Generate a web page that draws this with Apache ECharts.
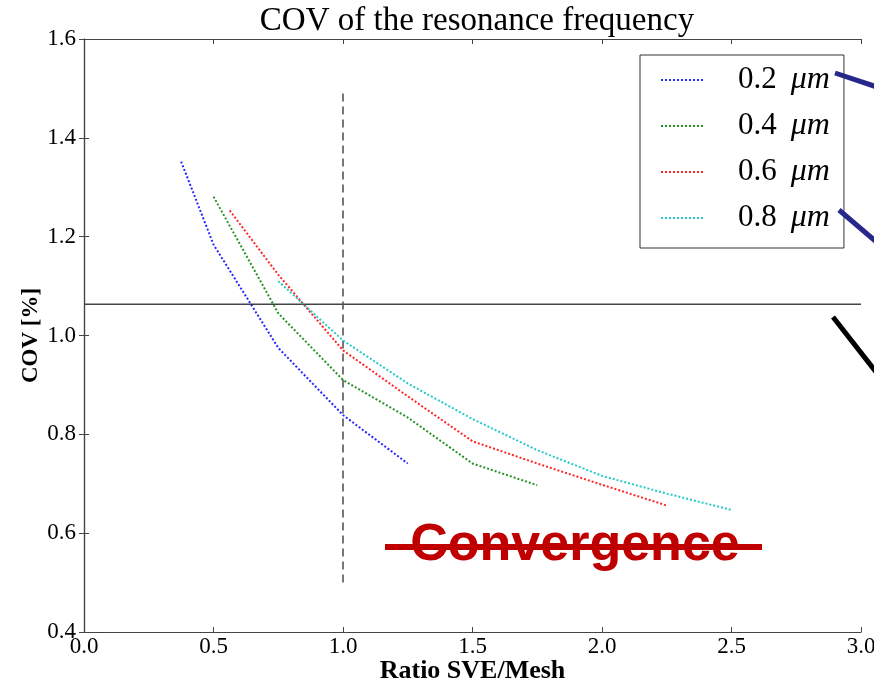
<!DOCTYPE html>
<html>
<head>
<meta charset="utf-8">
<script src="https://cdn.jsdelivr.net/npm/echarts@6/dist/echarts.min.js"></script>
<style>html,body{margin:0;padding:0;background:#fff}#c{width:874px;height:686px}</style>
</head>
<body>
<div id="c"></div>
<script>
// ---- data ----
const seriesNames = ['0.2', '0.4', '0.6', '0.8'];
const x02 = [0.375, 0.5, 0.75, 1.0, 1.25];
const y02 = [1.352, 1.184, 0.975, 0.839, 0.741];
const x04 = [0.5, 0.75, 1.0, 1.25, 1.5, 1.75];
const y04 = [1.281, 1.045, 0.910, 0.834, 0.741, 0.697];
const x06 = [0.5625, 0.75, 1.0, 1.25, 1.5, 1.75, 2.0, 2.25];
const y06 = [1.253, 1.123, 0.970, 0.877, 0.786, 0.741, 0.698, 0.656];
const x08 = [0.75, 1.0, 1.25, 1.5, 1.75, 2.0, 2.25, 2.5];
const y08 = [1.110, 0.990, 0.903, 0.831, 0.768, 0.716, 0.680, 0.647];
const hLineY = 1.063;          // horizontal threshold line
const vLineX = 1.0;            // vertical dashed line
const vLineRange = [0.5, 1.5];
const xTicks = [0, 3, 0.5];    // min, max, interval
const yTicks = [0.4, 1.6, 0.2];

const colors = ['#0000ff', '#008000', '#ff0000', '#00bfbf'];
const serif = 'Liberation Serif';

function pairs(xs, ys) { return xs.map((x, i) => [x, ys[i]]); }
const curves = [pairs(x02, y02), pairs(x04, y04), pairs(x06, y06), pairs(x08, y08)];

const chart = echarts.init(document.getElementById('c'), null, {renderer: 'canvas'});

const axisCommon = {
  axisLine: {show: true, lineStyle: {color: '#444', width: 1.2}},
  axisTick: {show: true, inside: true, length: 5, lineStyle: {color: '#444'}},
  splitLine: {show: false}
};

const series = curves.map((d, i) => ({
  name: seriesNames[i],
  type: 'line',
  data: d,
  symbol: 'none',
  smooth: false,
  xAxisIndex: 0, yAxisIndex: 0,
  lineStyle: {color: colors[i], width: 2, type: [2, 2], opacity: 0.85},
  itemStyle: {color: colors[i]},
  z: 3
}));
series.push({
  name: 'hline', type: 'line', symbol: 'none', silent: true,
  data: [[xTicks[0], hLineY], [xTicks[1], hLineY]],
  lineStyle: {color: '#444', width: 1.5}, z: 2
});
series.push({
  name: 'vline', type: 'line', symbol: 'none', silent: true,
  data: [[vLineX, vLineRange[0]], [vLineX, vLineRange[1]]],
  lineStyle: {color: '#555', width: 1.6, type: [8, 5]}, z: 2
});

const option = {
  animation: false,
  backgroundColor: '#fff',
  title: {
    text: 'COV of the resonance frequency',
    left: 472, top: 0, textAlign: 'center',
    textStyle: {fontFamily: serif, fontSize: 33, fontWeight: 'normal', color: '#000'}
  },
  grid: {left: 84, right: 13, top: 39, bottom: 54, containLabel: false, outerBoundsMode: 'none'},
  legend: {
    data: seriesNames,
    orient: 'vertical',
    left: 640, top: 55,
    padding: [9, 14, 14, 20],
    itemGap: 14,
    itemWidth: 44, itemHeight: 14,
    borderColor: '#333', borderWidth: 1, borderRadius: 0,
    backgroundColor: '#fff',
    itemStyle: {opacity: 0},
    formatter: name => '{n|' + name + '}{i|μm}',
    textStyle: {
      fontFamily: serif, color: '#000',
      rich: {
        n: {fontFamily: serif, fontSize: 31, lineHeight: 30, padding: [0, 14, 0, 28], color: '#000'},
        i: {fontFamily: serif, fontSize: 32, lineHeight: 30, fontStyle: 'italic', color: '#000'}
      }
    }
  },
  xAxis: [
    Object.assign({}, axisCommon, {
      type: 'value', min: xTicks[0], max: xTicks[1], interval: xTicks[2],
      position: 'bottom',
      name: 'Ratio SVE/Mesh', nameLocation: 'middle', nameGap: 26, nameMoveOverlap: false,
      nameTextStyle: {fontFamily: serif, fontSize: 26, color: '#000', fontWeight: 'bold'},
      axisLabel: {fontFamily: serif, fontSize: 23, color: '#000', margin: 3,
        formatter: v => v.toFixed(1)}
    }),
    Object.assign({}, axisCommon, {
      type: 'value', min: xTicks[0], max: xTicks[1], interval: xTicks[2],
      position: 'top', axisLabel: {show: false}
    })
  ],
  yAxis: [
    Object.assign({}, axisCommon, {
      type: 'value', min: yTicks[0], max: yTicks[1], interval: yTicks[2],
      position: 'left',
      name: 'COV [%]', nameLocation: 'middle', nameGap: 41, nameMoveOverlap: false,
      nameTextStyle: {fontFamily: serif, fontSize: 23, color: '#000', fontWeight: 'bold'},
      axisLabel: {fontFamily: serif, fontSize: 23, color: '#000', margin: 8,
        formatter: v => v.toFixed(1)}
    }),
    Object.assign({}, axisCommon, {
      type: 'value', min: yTicks[0], max: yTicks[1], interval: yTicks[2],
      position: 'right', axisLabel: {show: false}
    })
  ],
  series: series,
  graphic: [
    {type: 'line', shape: {x1: 835, y1: 73, x2: 880, y2: 88},
     style: {stroke: '#27278a', lineWidth: 5}, z: 10},
    {type: 'line', shape: {x1: 839, y1: 210, x2: 880, y2: 245},
     style: {stroke: '#27278a', lineWidth: 5}, z: 10},
    {type: 'line', shape: {x1: 833, y1: 317, x2: 880, y2: 377},
     style: {stroke: '#000', lineWidth: 5}, z: 10},
    {type: 'text', x: 575, y: 546, z: 10,
     style: {text: 'Convergence', fill: '#c00000', fontFamily: 'Liberation Sans',
       fontWeight: 'bold', fontSize: 52, align: 'center', verticalAlign: 'middle'}},
    {type: 'line', shape: {x1: 385, y1: 547, x2: 762, y2: 547},
     style: {stroke: '#c00000', lineWidth: 6}, z: 11}
  ]
};
chart.setOption(option);
</script>
</body>
</html>
